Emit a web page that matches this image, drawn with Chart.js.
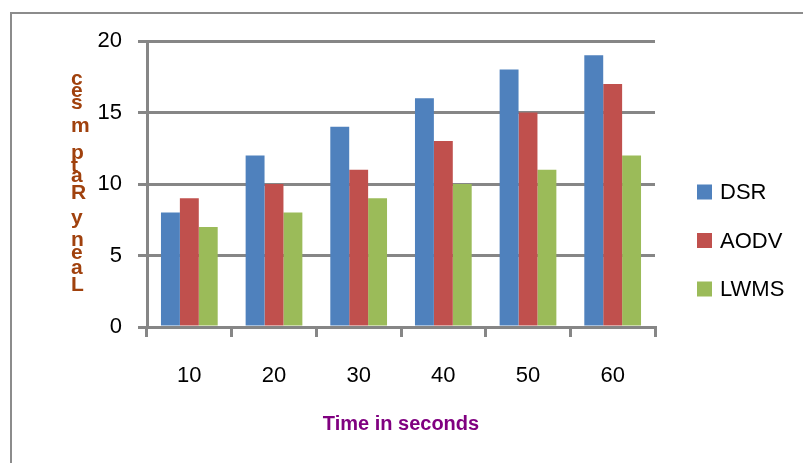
<!DOCTYPE html>
<html>
<head>
<meta charset="utf-8">
<script src="https://cdn.jsdelivr.net/npm/chart.js@4"></script>
<style>
  html, body { margin: 0; padding: 0; background: #fff; }
  #wrap { width: 803px; height: 463px; position: relative; }
</style>
</head>
<body>
<div id="wrap"><canvas id="myChart" width="803" height="463"></canvas></div>
<script>
const categories = ["10", "20", "30", "40", "50", "60"];
const dsrValues = [8, 12, 14, 16, 18, 19];
const aodvValues = [9, 10, 11, 13, 15, 17];
const lwmsValues = [7, 8, 9, 10, 11, 12];
const seriesNames = ["DSR", "AODV", "LWMS"];
const xTitle = "Time in seconds";
// y title comes out as stacked letters in the picture, top to bottom
const yTitleLetters = [["c", 79], ["e", 91], ["s", 103], ["m", 126], ["p", 153], ["t", 166], ["a", 176], ["R", 193], ["y", 218], ["n", 240], ["e", 253], ["a", 268], ["L", 285]];

const gridCol = "#868686";
const tickFont = { family: "Liberation Sans", size: 22 };

// frame, titles and legend drawn by hand
const extras = {
  id: "extras",
  afterDraw(chart) {
    const ctx = chart.ctx;
    ctx.save();
    ctx.strokeStyle = "#8c8c8c";
    ctx.lineWidth = 2;
    ctx.beginPath();
    ctx.moveTo(11, 463);
    ctx.lineTo(11, 13);
    ctx.lineTo(803, 13);
    ctx.stroke();

    // x title
    ctx.fillStyle = "#800080";
    ctx.font = "bold 20px 'Liberation Sans'";
    ctx.textAlign = "center";
    ctx.textBaseline = "middle";
    const area = chart.chartArea;
    ctx.fillText(xTitle, (area.left + area.right) / 2, 424);

    // y title
    ctx.fillStyle = "#A0410D";
    ctx.font = "bold 21px 'Liberation Sans'";
    ctx.textAlign = "left";
    yTitleLetters.forEach(([ch, y]) => ctx.fillText(ch, 71, y));

    // legend
    ctx.font = "22px 'Liberation Sans'";
    chart.data.datasets.forEach((ds, i) => {
      const cy = 192 + i * 48.5;
      ctx.fillStyle = ds.backgroundColor;
      ctx.fillRect(697, cy - 7.5, 15, 15);
      ctx.fillStyle = "#000";
      ctx.fillText(ds.label, 720, cy + 1);
    });
    ctx.restore();
  }
};

new Chart(document.getElementById("myChart"), {
  type: "bar",
  data: {
    labels: categories,
    datasets: [
      { label: seriesNames[0], data: dsrValues, backgroundColor: "#4F81BD" },
      { label: seriesNames[1], data: aodvValues, backgroundColor: "#C0504D" },
      { label: seriesNames[2], data: lwmsValues, backgroundColor: "#9BBB59" },
    ],
  },
  options: {
    responsive: false,
    animation: false,
    devicePixelRatio: 1,
    layout: { padding: { left: 0, right: 148, top: 41, bottom: 0 } },
    datasets: { bar: { categoryPercentage: 0.67, barPercentage: 1.0 } },
    plugins: { legend: { display: false }, tooltip: { enabled: false } },
    scales: {
      x: {
        grid: { drawOnChartArea: false, color: gridCol, lineWidth: 3, tickLength: 10, offset: true },
        border: { color: gridCol, width: 3 },
        ticks: { color: "#000", font: tickFont, padding: 26 },
        afterFit(scale) { scale.height = 136; },
      },
      y: {
        min: 0,
        max: 20,
        ticks: { stepSize: 5, color: "#000", font: tickFont, padding: 16 },
        grid: { color: gridCol, lineWidth: 3, tickLength: 9 },
        border: { color: gridCol, width: 3 },
        afterFit(scale) { scale.width = 147; },
      },
    },
  },
  plugins: [extras],
});
</script>
</body>
</html>
